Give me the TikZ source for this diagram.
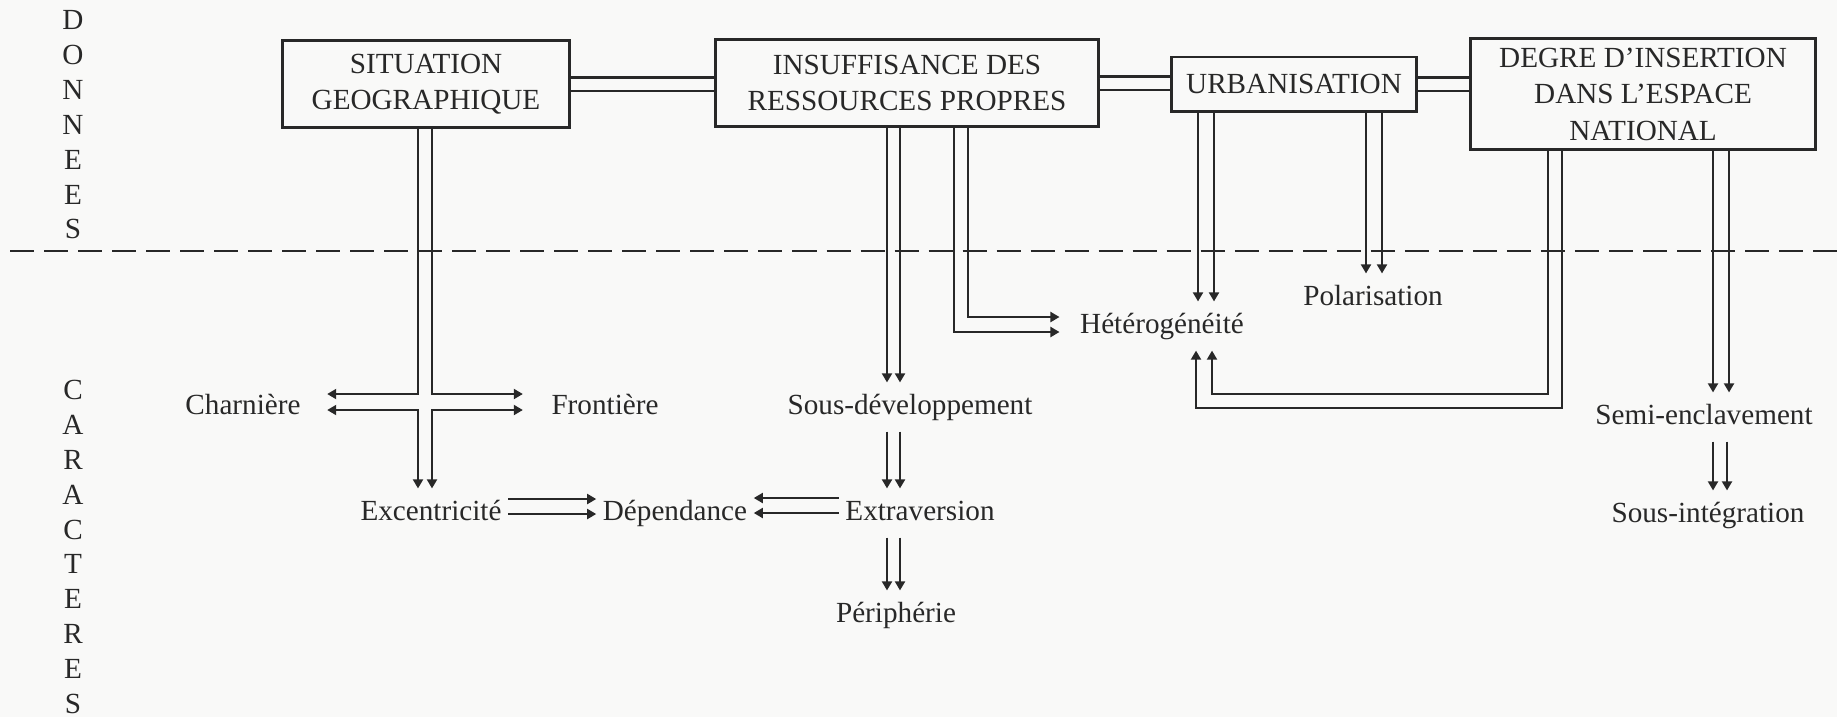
\documentclass[tikz,border=0pt]{standalone}
\usepackage{fontspec}
\setmainfont{Liberation Serif}
\usepackage{tikz}
\usetikzlibrary{arrows.meta, positioning, calc}
\definecolor{paper}{RGB}{249,249,248}
\definecolor{ink}{RGB}{40,40,40}

\begin{document}
\begin{tikzpicture}[
    x=0.01cm, y=-0.01cm,
    font=\fontsize{8.3}{10.4}\selectfont, text=ink,
    gbox/.style={rectangle, draw=ink, line width=0.85pt, fill=paper,
                 align=center, inner sep=0pt},
    lbl/.style={inner xsep=1.7pt, inner ysep=2.8pt,
                text height=6pt, text depth=2pt},
    vcol/.style={align=center, inner sep=0pt,
                 font=\fontsize{8.3}{9.9}\selectfont},
    link/.style={draw=ink, line width=0.6pt, double=paper,
                 double distance=0.11cm},
    a/.style={-{Triangle[length=0.09cm, width=0.1cm]}, draw=ink,
              line width=0.55pt},
    aa/.style={{Triangle[length=0.09cm, width=0.1cm]}-{Triangle[length=0.09cm, width=0.1cm]},
               draw=ink, line width=0.55pt},
    divider/.style={draw=ink, line width=0.5pt,
                    dash pattern=on 0.24cm off 0.1cm},
]

%% ─── page ────────────────────────────────────────────────────
\fill[paper] (0,0) rectangle (1837,717);
\useasboundingbox (0,0) rectangle (1837,717);

%% ─── side columns + divider ──────────────────────────────────
\node[vcol] (donnees) at (73,125) {D\\O\\N\\N\\E\\E\\S};
\node[vcol] (caract)  at (73,547) {C\\A\\R\\A\\C\\T\\E\\R\\E\\S};

\coordinate (divL) at (10,251);
\coordinate (divR) at (1837,251);
\draw[divider] (divL) -- (divR);

%% ─── boxes ───────────────────────────────────────────────────
\node[gbox, minimum width=2.86cm, minimum height=0.87cm]
    (sit) at (426,84) {SITUATION\\GEOGRAPHIQUE};
\node[gbox, minimum width=3.82cm, minimum height=0.87cm]
    (insuf) at (907,83) {INSUFFISANCE DES\\RESSOURCES PROPRES};
\node[gbox, minimum width=2.45cm, minimum height=0.54cm]
    (urb) at (1294,84) {URBANISATION};
\node[gbox, minimum width=3.44cm, minimum height=1.11cm]
    (degre) at (1643,94) {DEGRE D'INSERTION\\DANS L'ESPACE\\NATIONAL};

%% ─── labels ──────────────────────────────────────────────────
\node[lbl] (charn)   at (243,407)  {Charnière};
\node[lbl] (front)   at (605,407)  {Frontière};
\node[lbl] (exc)     at (431,513)  {Excentricité};
\node[lbl] (dep)     at (675,513)  {Dépendance};
\node[lbl] (extra)   at (920,513)  {Extraversion};
\node[lbl] (sousdev) at (910,407)  {Sous-développement};
\node[lbl] (peri)    at (896,615)  {Périphérie};
\node[lbl] (hetero)  at (1162,326) {Hétérogénéité};
\node[lbl] (polar)   at (1373,298) {Polarisation};
\node[lbl] (semi)    at (1704,417) {Semi-enclavement};
\node[lbl] (sousint) at (1708,515) {Sous-intégration};

%% ─── links between boxes ─────────────────────────────────────
\draw[link] (sit.east) -- (sit.east -| insuf.west);
\draw[link] (insuf.east) -- (insuf.east -| urb.west);
\draw[link] (urb.east) -- (urb.east -| degre.west);

%% ─── arrows ──────────────────────────────────────────────────

% situation → charnière / frontière / excentricité (the cross)
\draw[a]  ($(sit.south)+(-8,0)$) |- ($(charn.east)+(20,-13)$);
\draw[a]  ($(sit.south)+(6,0)$)  |- ($(front.west)+(-22,-13)$);
\draw[aa] ($(charn.east)+(20,3)$) -| ($(exc.north)+(-13,0)$);
\draw[aa] ($(front.west)+(-22,3)$) -| ($(exc.north)+(1,0)$);

% excentricité → dépendance ← extraversion
\draw[a] ($(exc.east)+(0,-14)$) -- ($(dep.west)+(0,-14)$);
\draw[a] ($(exc.east)+(0,1)$)   -- ($(dep.west)+(0,1)$);
\draw[a] ($(extra.west)+(0,-15)$) -- ($(dep.east)+(0,-15)$);
\draw[a] (extra.west) -- (dep.east);

% insuffisance → sous-développement → extraversion → périphérie
\draw[a] ($(insuf.south)+(-20,0)$) -- ($(sousdev.north)+(-23,0)$);
\draw[a] ($(insuf.south)+(-7,0)$)  -- ($(sousdev.north)+(-10,0)$);
\draw[a] ($(sousdev.south)+(-23,0)$) -- ($(extra.north)+(-33,0)$);
\draw[a] ($(sousdev.south)+(-10,0)$) -- ($(extra.north)+(-20,0)$);
\draw[a] ($(extra.south)+(-33,0)$) -- ($(peri.north)+(-9,0)$);
\draw[a] ($(extra.south)+(-20,0)$) -- ($(peri.north)+(4,0)$);

% insuffisance → hétérogénéité
\draw[a] ($(insuf.south)+(61,0)$) |- ($(hetero.west)+(-14,-9)$);
\draw[a] ($(insuf.south)+(47,0)$) |- ($(hetero.west)+(-14,6)$);

% urbanisation → hétérogénéité, polarisation
\draw[a] ($(urb.south)+(-96,0)$) -- ($(hetero.north)+(36,0)$);
\draw[a] ($(urb.south)+(-80,0)$) -- ($(hetero.north)+(52,0)$);
\draw[a] ($(urb.south)+(72,0)$) -- ($(polar.north)+(-7,0)$);
\draw[a] ($(urb.south)+(88,0)$) -- ($(polar.north)+(9,0)$);

% degré d'insertion → hétérogénéité (loop from below)
\draw[a] ($(degre.south)+(-95,0)$) |- ($(hetero.south)+(50,43)$)
    -- ($(hetero.south)+(50,0)$);
\draw[a] ($(degre.south)+(-81,0)$) |- ($(hetero.south)+(34,57)$)
    -- ($(hetero.south)+(34,0)$);

% degré d'insertion → semi-enclavement → sous-intégration
\draw[a] ($(degre.south)+(70,0)$) -- ($(semi.north)+(9,0)$);
\draw[a] ($(degre.south)+(86,0)$) -- ($(semi.north)+(25,0)$);
\draw[a] ($(semi.south)+(9,0)$)  -- ($(sousint.north)+(5,0)$);
\draw[a] ($(semi.south)+(23,0)$) -- ($(sousint.north)+(19,0)$);

\end{tikzpicture}
\end{document}
